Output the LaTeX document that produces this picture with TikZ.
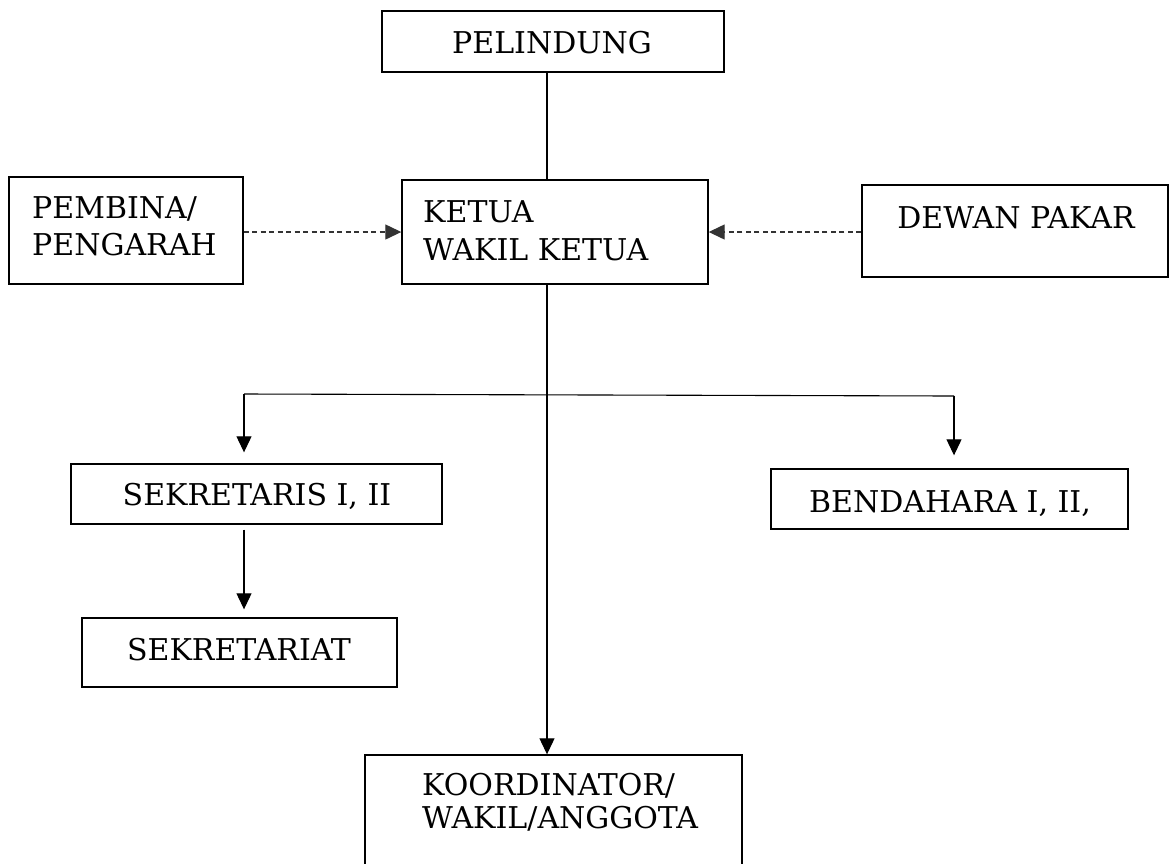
\documentclass[tikz,border=0pt]{standalone}
\usepackage{fontspec}
\setmainfont{DejaVu Serif}
\usetikzlibrary{arrows.meta}
\begin{document}
\begin{tikzpicture}[x=1pt,y=-1pt,
  box/.style={draw, line width=1.4pt, inner sep=0pt, rectangle},
  lbl/.style={inner sep=0pt, font=\fontsize{30}{38}\selectfont},
  conn/.style={line width=1.1pt, draw=black},
  arr/.style={conn, -{Triangle[length=16pt,width=15pt]}},
  darr/.style={arr, line width=1.3pt, draw=black!80, dash pattern=on 5pt off 3.5pt}]
\useasboundingbox (0,0) rectangle (1169,863);
\clip (0,0) rectangle (1169,863);
% boxes
\node[box, minimum width=342pt, minimum height=61pt] (pel) at (553,41.5) {};
\node[box, minimum width=306pt, minimum height=104pt] (ketua) at (555,232) {};
\node[box, minimum width=234pt, minimum height=107pt] (pemb) at (126,230.5) {};
\node[box, minimum width=306pt, minimum height=92pt] (dewan) at (1015,231) {};
\node[box, minimum width=371pt, minimum height=60pt] (sek) at (256.5,494) {};
\node[box, minimum width=315pt, minimum height=69pt] (sekt) at (239.5,652.5) {};
\node[box, minimum width=357pt, minimum height=60pt] (bend) at (949.5,499) {};
\node[box, minimum width=377pt, minimum height=145pt] (koord) at (553.5,827.5) {};
% texts
\node[lbl, anchor=base] (tpel) at (552,53) {PELINDUNG};
\node[lbl, anchor=base west] (tket1) at (423,222) {KETUA};
\node[lbl, anchor=base west] (tket2) at (423,260) {WAKIL KETUA};
\node[lbl, anchor=base west] (tpem1) at (32,218) {PEMBINA/};
\node[lbl, anchor=base west] (tpem2) at (32,255) {PENGARAH};
\node[lbl, anchor=base] (tdew) at (1016,228) {DEWAN PAKAR};
\node[lbl, anchor=base] (tsek) at (257,505) {SEKRETARIS I, II};
\node[lbl, anchor=base] (tsekt) at (239,660) {SEKRETARIAT};
\node[lbl, anchor=base] (tbend) at (950,512) {BENDAHARA I, II,};
\node[lbl, anchor=base west] (tko1) at (422,795) {KOORDINATOR/};
\node[lbl, anchor=base west] (tko2) at (422,828) {WAKIL/ANGGOTA};
% connectors
\coordinate (kx) at (547,0);
\coordinate (bl) at (244,394);
\coordinate (br) at (954,396);
\draw[conn] (pel.south -| kx) -- (ketua.north -| kx);
\draw[arr] (ketua.south -| kx) -- (koord.north -| kx);
\draw[darr] (pemb.east |- ketua.west) -- (ketua.west);
\draw[darr] (dewan.west |- ketua.east) -- (ketua.east);
\draw[conn] (bl) -- (br);
\draw[arr, shorten >=11pt] (bl) -- (bl |- sek.north);
\draw[arr, shorten >=13pt] (br) -- (br |- bend.north);
\draw[arr, shorten <=5pt, shorten >=8pt] (sek.south -| bl) -- (sekt.north -| bl);
\end{tikzpicture}
\end{document}
